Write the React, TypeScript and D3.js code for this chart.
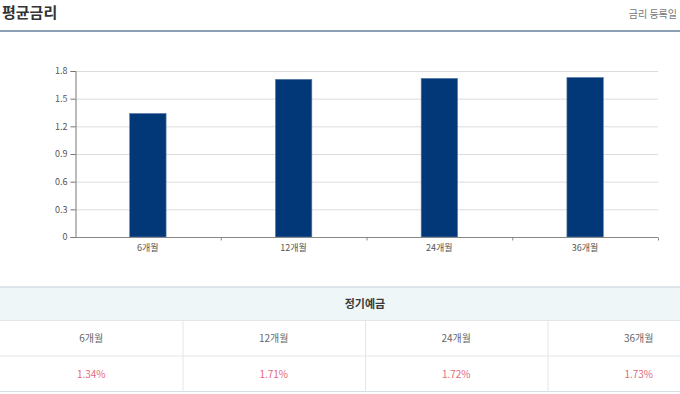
import React, { useEffect, useRef } from 'react'
import * as d3 from 'd3'

const periods = ['6개월', '12개월', '24개월', '36개월']
const rates = [1.34, 1.71, 1.72, 1.73]
const yTicks = [0, 0.3, 0.6, 0.9, 1.2, 1.5, 1.8]
const tableTitle = '정기예금'
const pageTitle = '평균금리'
const dateLabel = '금리 등록일'

const width = 680
const height = 394
const font = '"Noto Sans CJK KR", "Noto Sans", sans-serif'

const App = () => {
  const ref = useRef(null)
  const margin = ({ top: 71, right: 22, bottom: 157, left: 75 })

  useEffect(() => {
    const svg = d3.select(ref.current)
    svg.selectAll('*').remove()

    // header
    svg.append('text')
      .attr('x', 2).attr('y', 18)
      .attr('font-family', font).attr('font-size', 15).attr('font-weight', 700)
      .attr('fill', '#333')
      .text(pageTitle)
    svg.append('text')
      .attr('x', 677).attr('y', 18)
      .attr('text-anchor', 'end')
      .attr('font-family', font).attr('font-size', 10)
      .attr('fill', '#777')
      .text(dateLabel)
    svg.append('rect')
      .attr('x', 0).attr('y', 30).attr('width', width).attr('height', 2)
      .attr('fill', '#8c9fb3')

    // chart
    const x = d3.scaleBand()
      .domain(periods)
      .range([margin.left, width - margin.right])
      .padding(0)

    const y = d3.scaleLinear()
      .domain([0, 1.8])
      .range([height - margin.bottom, margin.top])

    const chart = svg.append('g')

    chart.append('g')
      .selectAll('line')
      .data(yTicks.filter(d => d > 0))
      .join('line')
      .attr('x1', margin.left).attr('x2', width - margin.right)
      .attr('y1', d => y(d) + 0.5).attr('y2', d => y(d) + 0.5)
      .attr('stroke', '#dcdcdc')

    const bw = x.bandwidth() * 0.25
    chart.append('g')
      .selectAll('rect')
      .data(rates)
      .join('rect')
      .attr('x', (d, i) => x(periods[i]) + (x.bandwidth() - bw) / 2)
      .attr('y', d => y(d))
      .attr('width', bw)
      .attr('height', d => y(0) - y(d))
      .attr('fill', '#023878')
      .attr('stroke', '#5c7fa8')
      .attr('stroke-width', 0.6)

    const yAxis = chart.append('g')
      .attr('transform', `translate(${margin.left + 0.5},0)`)
      .call(d3.axisLeft(y).tickValues(yTicks).tickSize(5).tickPadding(3).tickFormat(d => d === 0 ? '0' : d3.format('.1f')(d)))
    yAxis.select('.domain').attr('stroke', '#777')
    yAxis.selectAll('.tick line').attr('stroke', '#777')
    yAxis.selectAll('text').attr('font-family', font).attr('font-size', 9).attr('fill', '#555')

    const xAxis = chart.append('g')
      .attr('transform', `translate(0,${height - margin.bottom + 0.5})`)
    xAxis.append('line')
      .attr('x1', margin.left).attr('x2', width - margin.right)
      .attr('stroke', '#888')
    xAxis.selectAll('.tk')
      .data(periods.slice(1).concat(['end']))
      .join('line')
      .attr('class', 'tk')
      .attr('x1', (d, i) => margin.left + (i + 1) * x.step() + 0.5)
      .attr('x2', (d, i) => margin.left + (i + 1) * x.step() + 0.5)
      .attr('y1', 0).attr('y2', 3)
      .attr('stroke', '#888')
    xAxis.selectAll('text')
      .data(periods)
      .join('text')
      .attr('x', d => x(d) + x.bandwidth() / 2)
      .attr('y', 13)
      .attr('text-anchor', 'middle')
      .attr('font-family', font).attr('font-size', 9)
      .attr('fill', '#555')
      .text(d => d)

    // table
    const col = d3.scaleBand()
      .domain(periods)
      .range([0, 730])
    const rows = { top: 287, head: 320.5, mid: 356, bottom: 391.5 }
    const tbl = svg.append('g')

    tbl.append('rect')
      .attr('x', 0).attr('y', rows.top).attr('width', 730).attr('height', rows.head - rows.top)
      .attr('fill', '#eef6f8')
    ;[rows.top, rows.head, rows.mid, rows.bottom].forEach((ry, i) => {
      tbl.append('line')
        .attr('x1', 0).attr('x2', 730)
        .attr('y1', ry).attr('y2', ry)
        .attr('stroke', i === 0 || i === 3 ? '#d5dde3' : '#e2e6ea')
        .attr('stroke-width', i === 0 ? 1.5 : 1)
    })
    tbl.selectAll('.div')
      .data(periods.slice(1))
      .join('line')
      .attr('class', 'div')
      .attr('x1', d => col(d) + 0.5).attr('x2', d => col(d) + 0.5)
      .attr('y1', rows.head).attr('y2', rows.bottom)
      .attr('stroke', '#e2e6ea')
    tbl.append('text')
      .attr('x', 365).attr('y', (rows.top + rows.head) / 2 + 4)
      .attr('text-anchor', 'middle')
      .attr('font-family', font).attr('font-size', 11).attr('font-weight', 700)
      .attr('fill', '#3a3a3a')
      .text(tableTitle)
    tbl.selectAll('.lbl')
      .data(periods)
      .join('text')
      .attr('class', 'lbl')
      .attr('x', d => col(d) + col.bandwidth() / 2)
      .attr('y', (rows.head + rows.mid) / 2 + 3.5)
      .attr('text-anchor', 'middle')
      .attr('font-family', font).attr('font-size', 10)
      .attr('fill', '#666')
      .text(d => d)
    tbl.selectAll('.val')
      .data(rates)
      .join('text')
      .attr('class', 'val')
      .attr('x', (d, i) => col(periods[i]) + col.bandwidth() / 2)
      .attr('y', (rows.mid + rows.bottom) / 2 + 4)
      .attr('text-anchor', 'middle')
      .attr('font-family', font).attr('font-size', 10)
      .attr('fill', '#e4697b')
      .text(d => d.toFixed(2) + '%')
  }, [])

  return (
    <svg ref={ref} width={width} height={height}
      style={{ position: 'absolute', left: 0, top: 0, background: '#fff' }} />
  )
}

export default App
